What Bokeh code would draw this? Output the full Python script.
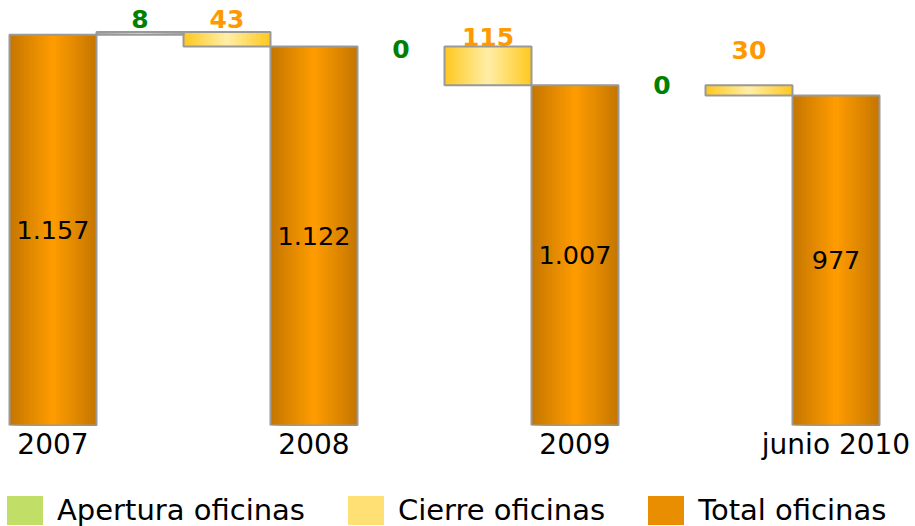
from bokeh.plotting import figure
from bokeh.layouts import column
from bokeh.models import ColumnDataSource, Legend, LegendItem, FixedTicker
from bokeh.core.properties import value
from bokeh.embed import file_html
from bokeh.resources import INLINE

# ---------------- data ----------------
periods = ["2007", "2008", "2009", "junio 2010"]
totals = [1157, 1122, 1007, 977]
total_labels = ["1.157", "1.122", "1.007", "977"]
aperturas = [8, 0, 0]
cierres = [43, 115, 30]
series_names = ["Apertura oficinas", "Cierre oficinas", "Total oficinas"]

# ---------------- style ----------------
FONT = "DejaVu Sans"
ORANGE = ((196, 118, 0), (255, 156, 0))
YELLOW = ((255, 200, 30), (255, 238, 168))
GREEN = ((150, 200, 20), (218, 236, 150))
OUTLINE = "#999999"
AP_OFFSETS = [-4, 11, 9]
CI_OFFSETS = [-4, -1, -26]
N_STRIPS = 30
SWATCH_STRIP = 9  # strip whose colour stands for the series in the legend
SLOT_PX = 87.0     # width of one bar slot in pixels
PAD_LEFT_PX, PAD_RIGHT_PX = 9, 36


def mix(edge, mid, t):
    return "#%02x%02x%02x" % tuple(int(round(m * (1 - t) + e * t)) for e, m in zip(edge, mid))


# build bars (waterfall), grouped per series
series_bars = {"ap": [], "ci": [], "tot": []}
for i, tot in enumerate(totals):
    series_bars["tot"].append((3 * i, 0, tot))
    if i < len(aperturas):
        ap, ci = aperturas[i], cierres[i]
        if ap:
            series_bars["ap"].append((3 * i + 1, tot, tot + ap))
        if ci:
            series_bars["ci"].append((3 * i + 2, tot + ap - ci, tot + ap))

palettes = {"ap": GREEN, "ci": YELLOW, "tot": ORANGE}


def strip_source(key):
    edge, mid = palettes[key]
    d = dict(left=[], right=[], bottom=[], top=[], color=[])
    for xc, b, t in series_bars[key]:
        for k in range(N_STRIPS):
            s = (k + 0.5) / N_STRIPS
            d["left"].append(xc - 0.5 + k / N_STRIPS)
            d["right"].append(xc + 0.5)
            d["bottom"].append(b)
            d["top"].append(t)
            d["color"].append(mix(edge, mid, abs(2 * s - 1)))
    return ColumnDataSource(d)


sources = {k: strip_source(k) for k in ["tot", "ap", "ci"]}
n_slots = 3 * (len(totals) - 1) + 1
x_lo = -0.5 - PAD_LEFT_PX / SLOT_PX
x_hi = n_slots - 0.5 + PAD_RIGHT_PX / SLOT_PX

p = figure(frame_width=915, frame_height=417, x_range=(x_lo, x_hi), y_range=(0, 1234.5),
           output_backend="svg", toolbar_location=None, y_axis_location=None,
           min_border_left=0, min_border_right=0, min_border_top=8,
           min_border_bottom=55)
p.outline_line_color = None
p.grid.visible = False

for key in ["tot", "ap", "ci"]:
    p.quad(left="left", right="right", bottom="bottom", top="top",
           fill_color="color", line_color=None, source=sources[key])

all_bars = series_bars["tot"] + series_bars["ap"] + series_bars["ci"]
outline = ColumnDataSource(dict(left=[b[0] - 0.5 for b in all_bars],
                                right=[b[0] + 0.5 for b in all_bars],
                                bottom=[b[1] for b in all_bars],
                                top=[b[2] for b in all_bars]))
p.quad(left="left", right="right", bottom="bottom", top="top", fill_color=None,
       line_color=OUTLINE, line_width=2, source=outline)

# total labels in the middle of each bar
tot_src = ColumnDataSource(dict(x=[3 * i for i in range(len(totals))],
                                y=[t / 2 for t in totals], text=total_labels))
p.text(x="x", y="y", text="text", source=tot_src, text_align="center",
       text_baseline="middle", text_font=value(FONT), text_font_size="25.5px",
       text_color="#000000")

# change labels
ap_src = ColumnDataSource(dict(x=[3 * i + 1 for i in range(len(aperturas))],
                               y=[totals[i] + aperturas[i] for i in range(len(aperturas))],
                               text=[str(a) for a in aperturas], off=AP_OFFSETS))
p.text(x="x", y="y", text="text", y_offset="off", source=ap_src, text_align="center",
       text_baseline="bottom", text_font=value(FONT), text_font_size="25px",
       text_font_style="bold", text_color="#008000")
ci_src = ColumnDataSource(dict(x=[3 * i + 2 for i in range(len(cierres))],
                               y=[totals[i] + aperturas[i] for i in range(len(cierres))],
                               text=[str(c) for c in cierres], off=CI_OFFSETS))
p.text(x="x", y="y", text="text", y_offset="off", source=ci_src, text_align="center",
       text_baseline="bottom", text_font=value(FONT), text_font_size="25px",
       text_font_style="bold", text_color="#ff9900")

# x axis
p.xaxis.ticker = FixedTicker(ticks=[3 * i for i in range(len(periods))])
p.xaxis.major_label_overrides = {3 * i: lab for i, lab in enumerate(periods)}
p.xaxis.axis_line_color = None
p.xaxis.major_tick_line_color = None
p.xaxis.minor_tick_line_color = None
p.xaxis.major_tick_out = 0
p.xaxis.major_tick_in = 0
p.xaxis.minor_tick_out = 0
p.xaxis.major_label_text_font = FONT
p.xaxis.major_label_text_font_size = "28px"
p.xaxis.major_label_text_color = "#000000"
p.xaxis.major_label_standoff = 2

# legend strip below: the same strip sources, kept out of this strip's view
lg = figure(frame_width=915, frame_height=46, x_range=(0, 1), y_range=(-2, -1),
            output_backend="svg", toolbar_location=None, x_axis_location=None,
            y_axis_location=None, min_border=0)
lg.outline_line_color = None
lg.grid.visible = False
lg_renderers = {k: lg.quad(left="left", right="right", bottom="bottom", top="top",
                           fill_color="color", line_color=None, source=sources[k])
                for k in ["ap", "ci", "tot"]}
legend = Legend(items=[LegendItem(label=n, renderers=[lg_renderers[k]], index=SWATCH_STRIP)
                       for n, k in zip(series_names, ["ap", "ci", "tot"])],
                orientation="horizontal", location=(2, -2), glyph_width=45,
                glyph_height=36, label_height=36, label_standoff=10, spacing=38,
                margin=0, padding=0, border_line_color=None, background_fill_alpha=0,
                label_text_font=FONT, label_text_font_size="29px",
                label_text_color="#000000")
lg.add_layout(legend)

layout = column(p, lg, spacing=0)
open("out.html", "w").write(file_html(layout, INLINE))
